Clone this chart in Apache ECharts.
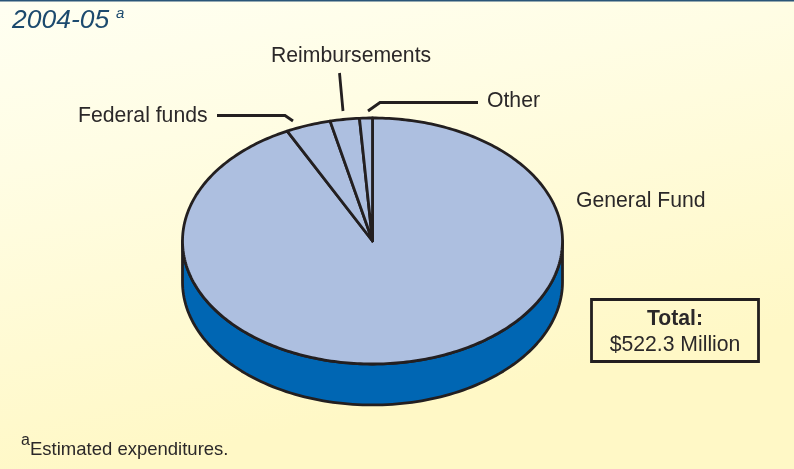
<!DOCTYPE html>
<html><head><meta charset="utf-8">
<style>html,body{margin:0;padding:0;background:#fff}#c{width:794px;height:469px}</style>
<script src="https://cdn.jsdelivr.net/npm/echarts@6/dist/echarts.min.js"></script>
</head><body><div id="c"></div>
<script>
const categories = ['General Fund', 'Federal funds', 'Reimbursements', 'Other'];
const values = [483.6, 20.0, 13.0, 5.7];
const totalLabel = 'Total:';
const totalValue = '$522.3 Million';
const titleText = '2004-05';
const noteText = 'Estimated expenditures.';
const INK = '#231f20';
const sum = values.reduce((a, b) => a + b, 0);
let acc = 0;
const sliceData = values.map((v, i) => { const s = acc; acc += v; return [s / sum, acc / sum, i]; });
const DEPTH = 0.333;
function pt(api, frac, dy) {
  const a = frac * 2 * Math.PI;
  return api.coord([Math.sin(a), Math.cos(a) - (dy || 0)]);
}
const chart = echarts.init(document.getElementById('c'), null, {renderer: 'canvas'});
const txt = (x, y, text, o) => ({type: 'text', x, y, silent: true, style: Object.assign({
  text, fontFamily: '"Liberation Sans"', fontSize: 21.2, fill: '#2b2829', textVerticalAlign: 'middle', textAlign: 'left'}, o || {})});
const line = (points, w) => ({type: 'polyline', silent: true, shape: {points},
  style: {stroke: INK, lineWidth: w || 2.8, fill: null, lineJoin: 'miter'}});
chart.setOption({
  animation: false,
  backgroundColor: new echarts.graphic.LinearGradient(0, 0, 0.12, 1, [
    {offset: 0, color: '#fffff2'}, {offset: 0.35, color: '#fffde4'}, {offset: 1, color: '#fff8c6'}]),
  grid: {left: 182.5, top: 118, width: 380, height: 246},
  xAxis: {type: 'value', min: -1, max: 1, show: false},
  yAxis: {type: 'value', min: -1, max: 1, show: false},
  series: [
    {type: 'custom', coordinateSystem: 'cartesian2d', silent: true, clip: false, z: 2,
     data: [[0.25, 0.75]],
     renderItem(p, api) {
       const s = api.value(0), e = api.value(1), pts = [];
       for (let i = 0; i <= 120; i++) pts.push(pt(api, s + (e - s) * i / 120, 0));
       for (let i = 120; i >= 0; i--) pts.push(pt(api, s + (e - s) * i / 120, DEPTH));
       return {type: 'polygon', shape: {points: pts},
         style: {fill: '#0066b3', stroke: INK, lineWidth: 2.8, lineJoin: 'round'}};
     }},
    {type: 'custom', coordinateSystem: 'cartesian2d', silent: true, clip: false, z: 3,
     data: sliceData,
     renderItem(p, api) {
       const s = api.value(0), e = api.value(1), pts = [api.coord([0, 0])];
       const n = Math.max(4, Math.ceil((e - s) * 360));
       for (let i = 0; i <= n; i++) pts.push(pt(api, s + (e - s) * i / n, 0));
       return {type: 'polygon', shape: {points: pts},
         style: {fill: '#adbfe0', stroke: INK, lineWidth: 2.8, lineJoin: 'round'}};
     }}
  ],
  graphic: {elements: [
    {type: 'rect', silent: true, shape: {x: 0, y: 0, width: 794, height: 1.5}, style: {fill: '#2a5578'}},
    txt(12, 21, titleText, {fontSize: 26.5, fontStyle: 'italic', fill: '#1c4a6e'}),
    txt(116, 14, 'a', {fontSize: 15, fontStyle: 'italic', fill: '#1c4a6e'}),
    txt(271, 56, categories[2]),
    txt(78, 116, categories[1]),
    txt(487, 101, categories[3]),
    txt(576, 201, categories[0]),
    line([[217, 115.5], [285, 115.5], [293, 121]]),
    line([[339.5, 73], [343, 111]]),
    line([[368, 111], [380, 102.5], [478, 102.5]]),
    {type: 'rect', silent: true, shape: {x: 591.5, y: 299.5, width: 167, height: 62},
     style: {fill: null, stroke: INK, lineWidth: 2.8}},
    txt(675, 319, totalLabel, {fontWeight: 'bold', textAlign: 'center'}),
    txt(675, 345, totalValue, {textAlign: 'center'}),
    txt(21, 441, 'a', {fontSize: 16}),
    txt(30, 450, noteText, {fontSize: 18.5})
  ]}
});
</script></body></html>
